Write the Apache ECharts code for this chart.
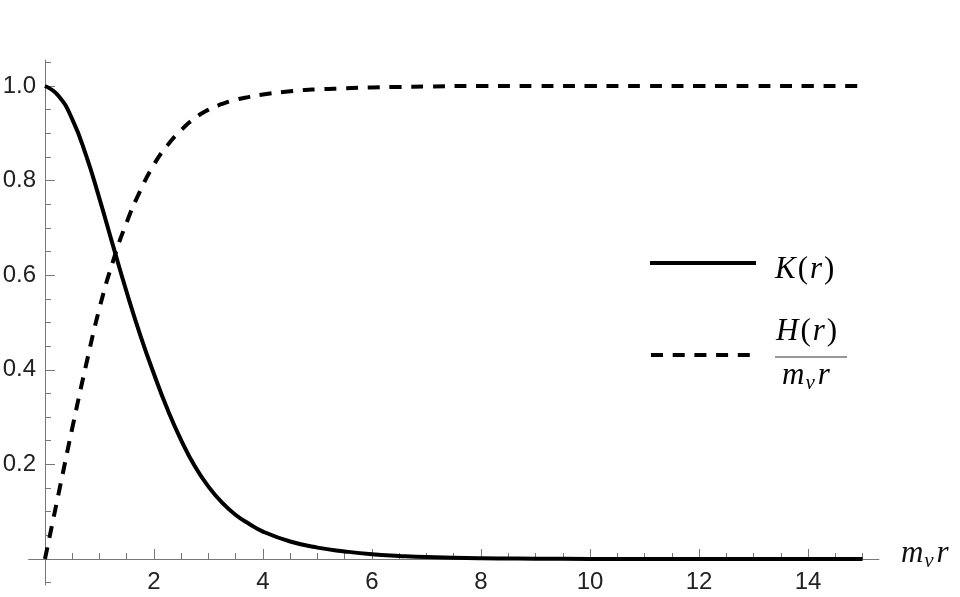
<!DOCTYPE html>
<html>
<head>
<meta charset="utf-8">
<script src="https://cdn.jsdelivr.net/npm/echarts@6/dist/echarts.min.js"></script>
<style>
  html, body { margin: 0; padding: 0; background: #fff; }
  #chart { width: 960px; height: 597px; }
</style>
</head>
<body>
<div id="chart"></div>
<script>
// values
const rValues = [0, 0.25, 0.5, 0.75, 1.0, 1.25, 1.5, 1.75, 2.0, 2.25, 2.5, 2.75, 3.0, 3.25, 3.5,
  3.75, 4.0, 4.5, 5.0, 5.5, 6.0, 6.5, 7, 8, 9, 10, 11, 12, 13, 14, 15]
const kValues = [1.0, 0.979, 0.930, 0.855, 0.762, 0.662, 0.564, 0.473, 0.391, 0.316, 0.251, 0.196,
  0.153, 0.119, 0.093, 0.074, 0.058, 0.037, 0.024, 0.016, 0.010, 0.0065, 0.004, 0.0015, 0.0006,
  0.0002, 0, 0, 0, 0, 0]
const hValues = [0, 0.138, 0.276, 0.408, 0.530, 0.630, 0.712, 0.779, 0.834, 0.875, 0.907, 0.932,
  0.950, 0.962, 0.971, 0.977, 0.982, 0.989, 0.993, 0.995, 0.997, 0.998, 0.999, 1.0, 1.0, 1.0,
  1.0, 1.0, 1.0, 1.0, 1.0]

const xMajorTicks = [2, 4, 6, 8, 10, 12, 14]
const xMinorTicks = [0.5, 1, 1.5, 2.5, 3, 3.5, 4.5, 5, 5.5, 6.5, 7, 7.5, 8.5, 9, 9.5,
  10.5, 11, 11.5, 12.5, 13, 13.5, 14.5, 15]
const yMajorTicks = [0.2, 0.4, 0.6, 0.8, 1.0]
const yMinorTicks = [-0.05, 0.05, 0.1, 0.15, 0.25, 0.3, 0.35, 0.45, 0.5, 0.55, 0.65, 0.7,
  0.75, 0.85, 0.9, 0.95, 1.05]

const axisGray = '#777'
const labelFont = 'Liberation Sans, Arial, sans-serif'
const mathFont = 'Liberation Serif, Times New Roman, serif'

const mathRich = {
  i: { fontFamily: mathFont, fontStyle: 'italic', fontSize: 31, color: '#111', padding: [0, 1, 0, 1] },
  n: { fontFamily: mathFont, fontSize: 31, color: '#111', padding: [0, 1, 0, 1] },
  sub: { fontFamily: mathFont, fontStyle: 'italic', fontSize: 21, color: '#111', padding: [15, 2, 0, 0] }
}

const xBase = {
  type: 'value',
  min: -0.3,
  max: 15.3,
  position: 'bottom',
  splitLine: { show: false },
  axisLine: { onZero: true, onZeroAxisIndex: 0, lineStyle: { color: axisGray, width: 1 } }
}
const yBase = {
  type: 'value',
  min: -0.055,
  max: 1.055,
  position: 'left',
  splitLine: { show: false },
  axisLine: { onZero: true, onZeroAxisIndex: 0, lineStyle: { color: axisGray, width: 1 } }
}

const chart = echarts.init(document.getElementById('chart'))

chart.setOption({
  animation: false,
  grid: { left: 28.6, right: 81.1, top: 60, bottom: 12, outerBoundsMode: 'none' },
  xAxis: [
    {
      ...xBase,
      name: '{i|m}{sub|v}{i|r}',
      nameLocation: 'end',
      nameGap: 21,
      nameTextStyle: { rich: mathRich, padding: [0, 0, 10, 0] },
      axisTick: { inside: true, length: 6, customValues: xMinorTicks, lineStyle: { color: axisGray } },
      axisLabel: {
        customValues: xMajorTicks, margin: -15, fontSize: 24, fontFamily: labelFont, color: '#222',
        formatter: v => String(v)
      }
    },
    {
      ...xBase,
      axisLine: { ...xBase.axisLine, show: false },
      axisTick: { inside: true, length: 10, customValues: xMajorTicks, lineStyle: { color: axisGray } },
      axisLabel: { show: false }
    }
  ],
  yAxis: [
    {
      ...yBase,
      axisTick: { inside: true, length: 6, customValues: yMinorTicks, lineStyle: { color: axisGray } },
      axisLabel: {
        customValues: yMajorTicks, margin: -7.4, fontSize: 24, fontFamily: labelFont, color: '#222',
        formatter: v => v.toFixed(1)
      }
    },
    {
      ...yBase,
      axisLine: { ...yBase.axisLine, show: false },
      axisTick: { inside: true, length: 10, customValues: yMajorTicks, lineStyle: { color: axisGray } },
      axisLabel: { show: false }
    }
  ],
  series: [
    {
      name: 'K(r)',
      type: 'line',
      xAxisIndex: 0,
      yAxisIndex: 0,
      data: rValues.map((r, i) => [r, kValues[i]]),
      smooth: 0.5,
      showSymbol: false,
      lineStyle: { color: '#000', width: 4 }
    },
    {
      name: 'H(r)/m_v r',
      type: 'line',
      xAxisIndex: 0,
      yAxisIndex: 0,
      data: rValues.map((r, i) => [r, hValues[i]]),
      smooth: 0.5,
      showSymbol: false,
      lineStyle: { color: '#000', width: 4, type: [12, 9.7], cap: 'butt' }
    }
  ],
  // legend drawn by hand, since it holds a fraction
  graphic: [
    { type: 'line', shape: { x1: 650, y1: 263, x2: 756, y2: 263 }, style: { stroke: '#000', lineWidth: 4 } },
    { type: 'text', left: 775, top: 254, style: { text: '{i|K}{n|(}{i|r}{n|)}', rich: mathRich } },
    { type: 'line', shape: { x1: 651, y1: 355, x2: 750, y2: 355 }, style: { stroke: '#000', lineWidth: 4, lineDash: [12, 9.7] } },
    { type: 'text', left: 776, top: 316, style: { text: '{i|H}{n|(}{i|r}{n|)}', rich: mathRich } },
    { type: 'line', shape: { x1: 775, y1: 357, x2: 847, y2: 357 }, style: { stroke: '#333', lineWidth: 1.2 } },
    { type: 'text', left: 782, top: 360, style: { text: '{i|m}{sub|v}{i|r}', rich: mathRich } }
  ]
})
</script>
</body>
</html>
